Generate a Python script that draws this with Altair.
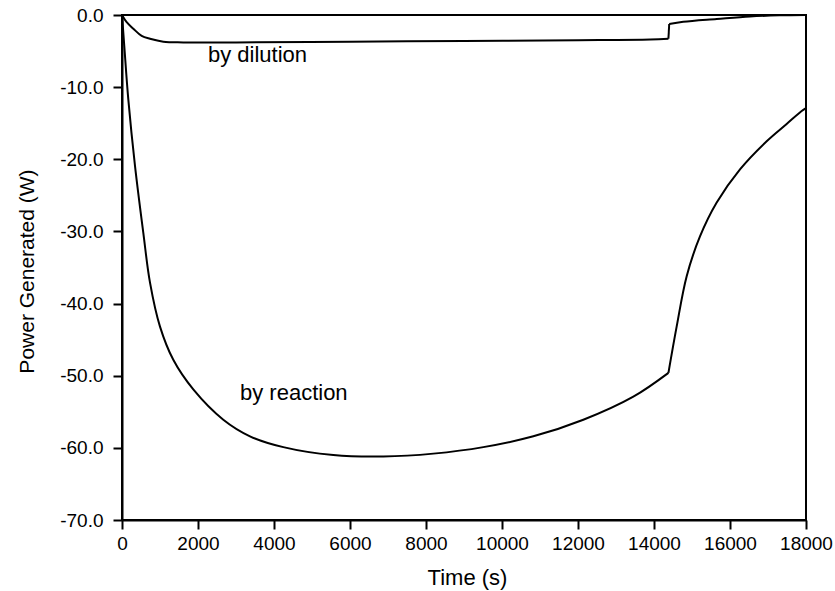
import altair as alt
import pandas as pd

# Reaction power (W) vs time (s): before and after the kink at ~14380 s
reaction_t = [0, 60, 166, 342, 561, 737, 1000, 1350, 1876, 2666, 3368, 4245, 5561,
              6877, 8193, 9508, 10825, 12140, 13456, 14380,
              14380, 14596, 14860, 15210, 15650, 16263, 16965, 17491, 17886, 18000]
reaction_p = [0, -4.3, -11.7, -20.9, -30.2, -37.1, -43.2, -47.8, -51.9, -56.1, -58.4,
              -59.9, -61.0, -61.2, -60.8, -59.9, -58.4, -56.1, -52.9, -49.6,
              -49.6, -43.2, -36.2, -30.7, -26.0, -21.4, -17.5, -15.1, -13.3, -12.9]
reaction_seg = ["r1"] * 20 + ["r2"] * 10

# Dilution power (W) vs time (s): before the step, the step, and after it
dilution_t = [0, 123, 298, 518, 737, 1088, 1614, 3000, 6000, 9000, 12000, 13900,
              14380,
              14380, 14400,
              14400, 14770, 15650, 16526, 17300, 18000]
dilution_p = [0, -1.0, -1.9, -2.9, -3.3, -3.7, -3.8, -3.8, -3.7, -3.6, -3.5, -3.4,
              -3.3,
              -3.3, -1.25,
              -1.25, -0.95, -0.56, -0.2, -0.05, 0]
dilution_seg = ["d1"] * 13 + ["d2"] * 2 + ["d3"] * 6

label_text = ["by dilution", "by reaction"]
label_t = [2263, 3105]
label_p = [-6.5, -53.4]

x_ticks = [0, 2000, 4000, 6000, 8000, 10000, 12000, 14000, 16000, 18000]
y_ticks = [0, -10, -20, -30, -40, -50, -60, -70]

FONT = "Liberation Sans"

df = pd.concat([
    pd.DataFrame({"t": reaction_t, "p": reaction_p, "seg": reaction_seg}),
    pd.DataFrame({"t": dilution_t, "p": dilution_p, "seg": dilution_seg}),
])
df["order"] = range(len(df))
labels = pd.DataFrame({"t": label_t, "p": label_p, "text": label_text})

x = alt.X("t:Q", scale=alt.Scale(domain=[0, 18000], nice=False),
          axis=alt.Axis(title="Time (s)", values=x_ticks,
                        format="d", tickSize=9, labelPadding=5,
                        labelOverlap=False, labelBound=False, labelFlush=False,
                        titleFontSize=22,
                        titleX=345, titleY=57, titleBaseline="middle"))
y = alt.Y("p:Q", scale=alt.Scale(domain=[-70, 0], nice=False),
          axis=alt.Axis(title="Power Generated (W)", values=y_ticks,
                        labelExpr="datum.value == 0 ? '0.0' : '-' + format(-datum.value, '.1f')",
                        tickSize=9, labelPadding=10,
                        labelOverlap=False, labelBound=False, labelFlush=False,
                        titleFontSize=21,
                        titleX=-95, titleY=256, titleAlign="center",
                        titleBaseline="middle"))

lines = alt.Chart(df).mark_line(color="black", strokeWidth=2,
                                interpolate="catmull-rom").encode(
    x=x, y=y, detail="seg:N", order="order:Q")

text = alt.Chart(labels).mark_text(align="left", baseline="alphabetic",
                                   font=FONT, fontSize=22, color="black").encode(
    x="t:Q", y="p:Q", text="text:N")

chart = alt.layer(lines, text).properties(
    width=684, height=505,
    autosize=alt.AutoSizeParams(type="none"),
    padding={"left": 122, "top": 15, "right": 29, "bottom": 71},
).configure_view(stroke="black", strokeWidth=2).configure_axis(
    grid=False, domainColor="black", domainWidth=2, tickColor="black",
    tickWidth=2, labelFont=FONT, labelFontSize=19, labelColor="black",
    titleFont=FONT, titleFontWeight="normal", titleColor="black",
)

chart.save("out.html", embed_options={"renderer": "svg", "actions": False})
